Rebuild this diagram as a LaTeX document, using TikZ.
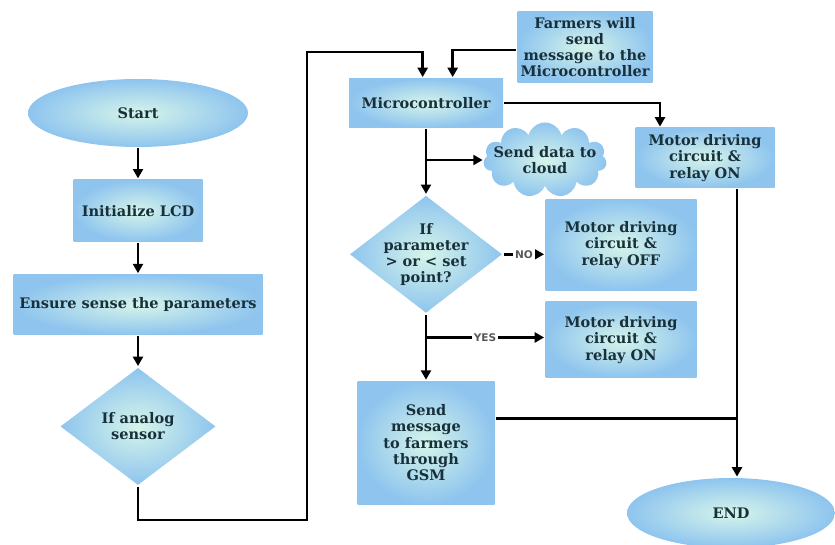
\documentclass[tikz,border=0pt]{standalone}
\usepackage{fontspec}
\setmainfont{DejaVu Serif}
\setsansfont{DejaVu Sans}
\usetikzlibrary{arrows.meta,positioning,shapes.geometric,shapes.symbols,calc}
\definecolor{boxout}{RGB}{142,196,238}
\definecolor{boxin}{RGB}{214,245,234}
\definecolor{boxtext}{RGB}{24,48,58}
\tikzset{
  every picture/.style={line width=2.4pt},
  node distance=0.9cm,
  every node/.style={font=\fontsize{12.4}{13.8}\selectfont\bfseries, text=boxtext, align=center},
  blk/.style={rectangle, inner color=boxin, outer color=boxout, inner sep=1pt},
  term/.style={ellipse, inner color=boxin, outer color=boxout, inner sep=0pt},
  cond/.style={diamond, aspect=1.3, inner color=boxin, outer color=boxout, inner sep=-0.2cm},
  puff/.style={cloud, cloud puffs=11, aspect=2.2, inner color=boxin, outer color=boxout, inner xsep=-0.32cm, inner ysep=-0.2cm},
  lbl/.style={font=\sffamily\bfseries\small, text=black!65, fill=white, inner sep=1.5pt},
  arr/.style={-{Triangle[length=8pt,width=8.5pt]}}
}

\begin{document}
\begin{tikzpicture}[tips=proper]
  \useasboundingbox (0,0) rectangle (25.05,-16.35);
  % left column
  \node [term, minimum width=6.6cm, minimum height=2.04cm] (start) at (4.14,-3.39) {Start};
  \node [blk, minimum width=3.87cm, minimum height=1.86cm, below=of start] (lcd) {Initialize LCD};
  \node [blk, minimum width=7.47cm, minimum height=1.8cm, below=of lcd] (sense) {Ensure sense the parameters};
  \node [cond, minimum width=4.68cm, minimum height=3.54cm, below=of sense] (analog) {If analog\\sensor};

  % controller column
  \node [blk, minimum width=4.62cm, minimum height=1.47cm] (mcu) at (12.78,-3.09) {Microcontroller};
  \node [blk, minimum width=4.05cm, minimum height=2.13cm] (farm) at (17.55,-1.41) {Farmers will\\send\\message to the\\Microcontroller};
  \node [puff, minimum width=3.7cm, minimum height=1.65cm] (cloud) at (16.35,-4.8) {Send data to\\cloud};
  \node [cond, minimum width=4.59cm, minimum height=3.54cm, below=1.95cm of mcu] (check) {If\\parameter\\> or < set\\point?};
  \node [blk, minimum width=4.11cm, minimum height=3.69cm, below=1.95cm of check] (gsm) {Send\\message\\to farmers\\through\\GSM};

  % motor and end
  \node [blk, minimum width=4.17cm, minimum height=1.8cm] (motA) at (21.15,-4.74) {Motor driving\\circuit \&\\relay ON};
  \node [blk, minimum width=4.53cm, minimum height=2.73cm] (motoff) at (18.63,-7.35) {Motor driving\\circuit \&\\relay OFF};
  \node [blk, minimum width=4.53cm, minimum height=2.28cm] (moton) at (18.63,-10.2) {Motor driving\\circuit \&\\relay ON};
  \node [term, minimum width=6.24cm, minimum height=2.1cm] (endn) at (21.93,-15.39) {END};

  \draw (start) edge[arr] (lcd);
  \draw (lcd) edge[arr] (sense);
  \draw (sense) edge[arr] (analog);

  % loop back to the controller
  \coordinate (loopbot) at (9.21,-15.6);
  \coordinate (looptop) at (9.21,-1.56);
  \draw[arr] (analog.south) |- (loopbot) -- (looptop) -| ([xshift=-0.1cm]mcu.north);
  \draw[arr] ([yshift=-0.09cm]farm.west) -| ([xshift=0.8cm]mcu.north);
  \draw[arr] (mcu.east) -| ([xshift=-1.35cm]motA.north);

  \draw (mcu) edge[arr] (check);
  \draw[arr] (mcu.south |- cloud.west) -- (cloud.west);

  \draw (check.east) edge[arr] node[lbl]{NO} (check.east -| motoff.west);
  \draw (check) edge[arr] (gsm);
  \coordinate (yes) at ($(check.south)!0.35!(gsm.north)$);
  \draw (yes) edge[arr] node[lbl]{YES} (yes -| moton.west);

  \coordinate (drop) at ([xshift=0.96cm]motA.south);
  \draw[arr] (drop) -- (drop |- endn.north);
  \coordinate (gsmout) at ([yshift=0.72cm]gsm.east);
  \draw (gsmout) -- (gsmout -| drop);
\end{tikzpicture}
\end{document}
